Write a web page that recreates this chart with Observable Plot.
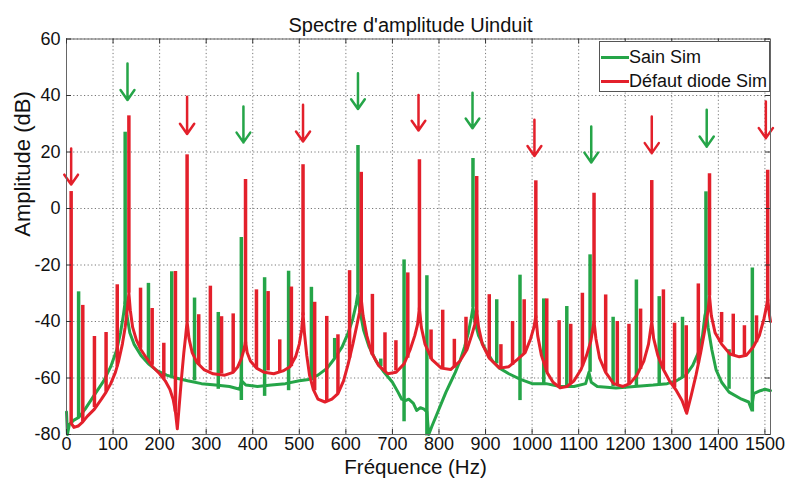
<!DOCTYPE html>
<html>
<head>
<meta charset="utf-8">
<script src="https://cdn.jsdelivr.net/npm/d3@7"></script>
<script src="https://cdn.jsdelivr.net/npm/@observablehq/plot@0.6"></script>
<style>
  html, body { margin: 0; padding: 0; background: #fff; }
  #wrap { position: relative; width: 787px; height: 481px; font-family: "Liberation Sans", Arial, sans-serif; }
  #legend { position: absolute; left: 599px; top: 41px; width: 171px; height: 51px; box-sizing: border-box;
            border: 1px solid #555; background: #fff; font-size: 18px; color: #111; }
  .row { position: absolute; left: 0; height: 22px; line-height: 22px; white-space: nowrap; }
  .sw { position: absolute; left: 1px; top: 9.5px; width: 28px; height: 3px; }
  .lt { position: absolute; left: 29px; top: 0; }
</style>
</head>
<body>
<div id="wrap"></div>
<script>
// ---------- data ----------
const title = "Spectre d'amplitude Uinduit";
const xLabel = "Fréquence (Hz)";
const yLabel = "Amplitude (dB)";
const seriesNames = ["Sain Sim", "Défaut diode Sim"];
const xTicks = [0, 100, 200, 300, 400, 500, 600, 700, 800, 900, 1000, 1100, 1200, 1300, 1400, 1500];
const yTicks = [-80, -60, -40, -20, 0, 20, 40, 60];

// "Sain Sim" continuous floor
const greenBaseF  = [0, 2, 6, 15, 26, 40, 60, 80, 95, 108, 116, 122, 126, 130, 136, 145, 160, 176, 195, 215, 235, 260, 290, 320, 350, 372, 376, 385, 410, 440, 470, 500, 520, 540, 560, 576, 592, 605, 615, 622, 626, 630, 638, 650, 665, 680, 700, 712, 720, 728, 735, 745, 752, 760, 768, 774, 778, 785, 795, 805, 815, 825, 835, 845, 855, 863, 869, 873, 877, 885, 900, 915, 930, 950, 975, 1000, 1030, 1060, 1090, 1115, 1122, 1127, 1140, 1180, 1220, 1260, 1290, 1310, 1330, 1345, 1357, 1366, 1371, 1374, 1378, 1386, 1395, 1407, 1423, 1450, 1465, 1471, 1476, 1490, 1500, 1512];
const greenBaseDb = [-72, -80, -76.5, -75, -74, -71, -66, -61, -56, -50, -44, -38, -33, -38, -44, -48, -52, -55, -57.5, -59, -60, -61, -62, -62.5, -63, -64, -61, -62.5, -63, -62.5, -62, -61, -60.5, -59, -56.5, -53, -49, -44, -39, -34, -30, -36, -43, -49, -54, -57.5, -61.5, -65, -67.5, -68, -67.5, -69, -71.5, -70.5, -71, -72, -80, -77, -73, -69, -65, -61.5, -58, -54, -49, -44, -39, -35, -40, -45, -50, -54, -56.5, -58.5, -60.5, -62, -62, -63, -63, -62, -58, -61.5, -63, -63.5, -63, -62.5, -62, -61, -59, -55.5, -51, -45, -38, -36, -42, -50, -57, -61.5, -65, -67.5, -68.5, -71, -65.5, -64.5, -64, -64.5];

// "Sain Sim" harmonic lines
const greenSpikeF   = [26, 126, 176, 226, 275, 326, 375.5, 425.5, 477, 526, 576, 626, 675, 725, 774, 873, 924, 974, 1025, 1074.5, 1124.5, 1174, 1224, 1273, 1323, 1373.4, 1423, 1473];
const greenSpikeTop = [-29.5, 27, -26.5, -22.4, -31.7, -36.8, -10.3, -24.5, -22.2, -27.9, -46, 22.3, -53.3, -18.2, -23.8, 17.7, -32.3, -23.6, -32, -34.7, -16.4, -38.5, -25.3, -31.2, -38.5, 5.9, -50, -21.1];
const greenSpikeLow = [-74, -34, -55, -59.5, -61, -64, -68, -66.5, -64.5, -61, -53, -30, -56, -75.5, -80.5, -35, -55, -68, -62, -63, -58, -63, -63, -62.5, -60, -37, -64, -72];

// "Défaut diode Sim" continuous floor
const redBaseF  = [10, 16, 25, 35, 45, 60, 75, 85, 95, 105, 112, 120, 126, 131, 134, 137, 142, 150, 160, 172, 185, 200, 212, 222, 229, 234, 238, 242, 247, 252, 256, 259, 263, 270, 280, 295, 315, 340, 358, 368, 376, 381, 384.5, 388, 395, 408, 425, 445, 465, 480, 492, 500, 505, 508, 511, 516, 522, 530, 540, 555, 570, 583, 595, 605, 615, 624, 629, 633, 637, 645, 655, 670, 690, 708, 725, 738, 748, 754, 758, 762, 770, 785, 805, 825, 845, 860, 870, 877, 881, 885, 893, 908, 930, 950, 968, 985, 997, 1004, 1008, 1012, 1020, 1032, 1045, 1060, 1075, 1090, 1105, 1117, 1126, 1133, 1137, 1145, 1158, 1175, 1195, 1210, 1225, 1240, 1250, 1257, 1261, 1270, 1282, 1295, 1310, 1322, 1332, 1342, 1352, 1362, 1372, 1378, 1381, 1385, 1393, 1407, 1425, 1445, 1460, 1475, 1488, 1498, 1503, 1506, 1510, 1512];
const redBaseDb = [-76, -77.5, -77, -75.5, -73.5, -71, -67.5, -65, -62, -58, -54, -48, -42, -35, -30, -36, -42, -46.5, -50, -53, -56, -58.5, -61, -64, -67.5, -72, -78, -70, -60, -51, -45, -40, -46, -51, -54.5, -57, -58.5, -59, -58, -56, -53, -50, -47, -51, -54, -56.5, -58, -58.5, -57.5, -56, -52.5, -48, -43, -37, -44, -52, -59, -64, -67.5, -68.5, -67.5, -65.5, -61, -55, -48, -41, -37, -32, -38, -45, -51, -55.5, -58.5, -58, -55, -50, -45, -41, -35, -42, -48, -53.5, -56.5, -57, -54, -50, -45, -41, -36, -42, -48, -53, -56.5, -56, -53.5, -51, -46, -42, -38, -45, -52, -58, -61.5, -63.5, -63, -61, -57, -52, -47, -40, -46, -53, -58, -62, -63, -62, -59, -54, -48, -40, -46, -52, -57, -61, -64.5, -68, -72.5, -66, -59, -51, -42, -36, -31, -38, -44, -48, -51.5, -52.5, -52, -49, -45, -39, -35, -32, -38, -40];

// "Défaut diode Sim" harmonic lines
const redSpikeF   = [10, 35, 60, 85, 109, 134, 159, 184, 209, 234, 259, 284, 309, 333, 358, 384.5, 408, 433, 458, 483, 508, 533, 559, 583, 608, 633, 657, 684, 707.5, 733, 758, 783, 808, 833, 858, 881, 908, 933, 958, 983, 1008, 1031.5, 1058, 1083, 1108, 1133, 1158, 1183, 1208, 1233, 1257, 1282, 1306, 1331, 1357, 1381, 1407, 1432, 1456, 1482, 1506];
const redSpikeTop = [6, -34.3, -45.3, -43.9, -27, 32.8, -28.2, -35.4, -47.7, -22.3, 19, -37.6, -27.5, -38.3, -37.3, 10.3, -28.8, -29.4, -46.5, -27.8, 15.5, -33.2, -38.2, -44.7, -22, 12.8, -30.4, -44, -46.8, -22.8, 17.3, -43, -36, -46.3, -38.5, 11.3, -30.5, -48.2, -40, -32.3, 9.8, -32, -39.7, -41, -30, 5.4, -30.6, -40, -41, -35.6, 9.9, -28.8, -40.6, -41.5, -26.7, 12.3, -36.8, -37.4, -41.5, -38, 13.5];
const redSpikeLow = [-76, -75.5, -70.5, -65, -56, -30, -49.5, -55.5, -60.5, -72, -40, -55.5, -57.5, -58.5, -58, -48, -56.5, -57.5, -58, -56, -38, -64.5, -68, -65.5, -53, -33, -52, -58, -57.5, -53, -36, -53.5, -56.5, -56.5, -50.5, -37, -53, -56.5, -55.5, -51.5, -39, -58, -63, -62, -56, -41, -58, -62.5, -62, -57, -40, -57, -63.5, -72, -55, -31, -47.5, -52, -52, -47.5, -33];

// annotation arrows
const greenArrowF   = [131, 380, 626, 872, 1127, 1375];
const greenArrowTop = [51.3, 36.1, 47.9, 41, 29, 35];
const greenArrowTip = [38.4, 23.4, 35.2, 28.4, 16.3, 21.9];
const redArrowF   = [10, 259, 508, 756, 1005, 1257, 1502];
const redArrowTop = [21.2, 39.6, 36.7, 40.2, 31.4, 32.6, 37.9];
const redArrowTip = [8.5, 26.4, 23.7, 27.6, 18.6, 19.6, 24.9];

// ---------- build tables ----------
const GREEN = "#25a548";
const RED = "#e3202b";
const greenLine = greenBaseF.map((f, i) => ({f, db: greenBaseDb[i]}));
const redLine = redBaseF.map((f, i) => ({f, db: redBaseDb[i]}));
const greenSpikes = greenSpikeF.map((f, i) => ({f, top: greenSpikeTop[i], lo: greenSpikeLow[i]}));
const redSpikes = redSpikeF.map((f, i) => ({f, top: redSpikeTop[i], lo: redSpikeLow[i]}));
const greenArrows = greenArrowF.map((f, i) => ({f, top: greenArrowTop[i], tip: greenArrowTip[i]}));
const redArrows = redArrowF.map((f, i) => ({f, top: redArrowTop[i], tip: redArrowTip[i]}));

const W = 787, H = 481, mL = 66, mR = 17, mT = 38.5, mB = 47;
const frameH = H - mT - mB, frameW = W - mL - mR;
const tickLen = 5;
const fmt = d => String(d);

const chart = Plot.plot({
  width: W, height: H,
  marginLeft: mL, marginRight: mR, marginTop: mT, marginBottom: mB,
  style: {fontFamily: "'Liberation Sans', Arial, sans-serif", background: "#fff", color: "#111", overflow: "visible"},
  x: {domain: [0, 1512], ticks: xTicks, label: null},
  y: {domain: [-80, 60], ticks: yTicks, label: null},
  marks: [
    Plot.gridX(xTicks, {stroke: "#777", strokeOpacity: 1, strokeDasharray: "1.2,2.4"}),
    Plot.gridY(yTicks, {stroke: "#777", strokeOpacity: 1, strokeDasharray: "1.2,2.4"}),
    Plot.line(greenLine, {x: "f", y: "db", stroke: GREEN, strokeWidth: 3, curve: "linear"}),
    Plot.ruleX(greenSpikes, {x: "f", y1: "lo", y2: "top", stroke: GREEN, strokeWidth: 3.5}),
    Plot.line(redLine, {x: "f", y: "db", stroke: RED, strokeWidth: 3, curve: "linear"}),
    Plot.ruleX(redSpikes, {x: "f", y1: "lo", y2: "top", stroke: RED, strokeWidth: 3.5}),
    Plot.arrow(greenArrows, {x: "f", y1: "top", y2: "tip", stroke: GREEN, strokeWidth: 2.5, headLength: 11, headAngle: 70}),
    Plot.arrow(redArrows, {x: "f", y1: "top", y2: "tip", stroke: RED, strokeWidth: 2.5, headLength: 11, headAngle: 70}),
    Plot.frame({stroke: "#666", strokeWidth: 1}),
    Plot.tickX(xTicks, {x: d => d, insetTop: frameH - tickLen, stroke: "#333"}),
    Plot.tickX(xTicks, {x: d => d, insetBottom: frameH - tickLen, stroke: "#333"}),
    Plot.tickY(yTicks, {y: d => d, insetRight: frameW - tickLen, stroke: "#333"}),
    Plot.tickY(yTicks, {y: d => d, insetLeft: frameW - tickLen, stroke: "#333"}),
    Plot.axisX({ticks: xTicks, tickSize: 0, tickPadding: 3, fontSize: 18, label: null, tickFormat: fmt}),
    Plot.axisY({ticks: yTicks, tickSize: 0, tickPadding: 6, fontSize: 18, label: null, tickFormat: fmt}),
    Plot.text([title], {frameAnchor: "top", dy: -21, dx: -8, fontSize: 20, fill: "#111"}),
    Plot.text([xLabel], {frameAnchor: "bottom", dy: 39.5, dx: -3, fontSize: 20.5, fill: "#111"}),
    Plot.text([yLabel], {frameAnchor: "left", dx: -44, rotate: -90, fontSize: 22, fill: "#111"})
  ]
});

const wrap = document.getElementById("wrap");
wrap.appendChild(chart);

// legend
const legend = document.createElement("div");
legend.id = "legend";
[GREEN, RED].forEach((c, i) => {
  const row = document.createElement("div");
  row.className = "row";
  row.style.top = (4 + i * 24) + "px";
  row.style.width = "100%";
  const sw = document.createElement("span");
  sw.className = "sw"; sw.style.background = c;
  const lt = document.createElement("span");
  lt.className = "lt"; lt.textContent = seriesNames[i];
  row.appendChild(sw); row.appendChild(lt);
  legend.appendChild(row);
});
wrap.appendChild(legend);
</script>
</body>
</html>
